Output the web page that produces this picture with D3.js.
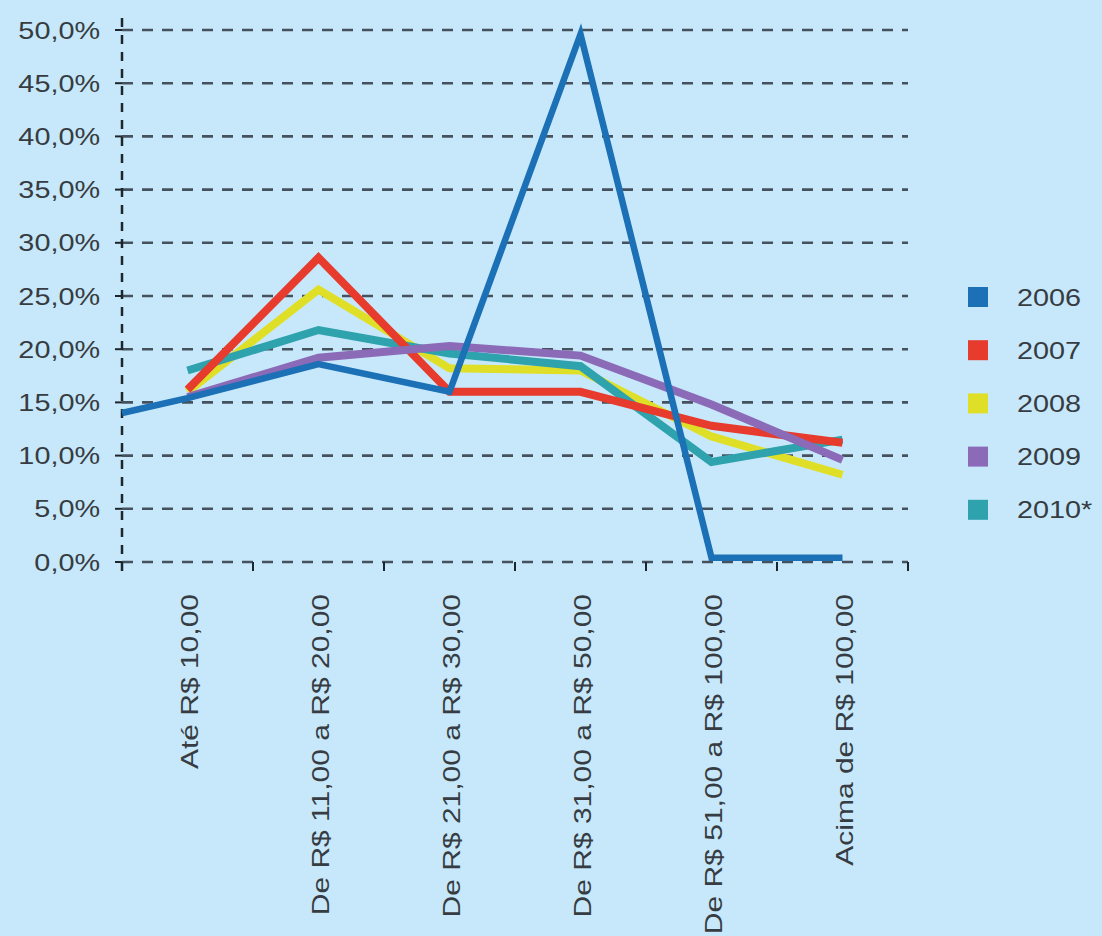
<!DOCTYPE html>
<html>
<head>
<meta charset="utf-8">
<script src="https://cdn.jsdelivr.net/npm/d3@7"></script>
<style>
  html, body { margin: 0; padding: 0; background: #c7e8fa; }
  svg { display: block; }
  text { font-family: "Liberation Sans", Arial, sans-serif; fill: #363c42; }
</style>
</head>
<body>
<script>
// categories on the x axis
var categories = [
	'Até R$ 10,00',
	'De R$ 11,00 a R$ 20,00',
	'De R$ 21,00 a R$ 30,00',
	'De R$ 31,00 a R$ 50,00',
	'De R$ 51,00 a R$ 100,00',
	'Acima de R$ 100,00'
];
var years = ['2006', '2007', '2008', '2009', '2010*'];

// values in %
var v2006 = [15.4, 18.6, 16.0, 49.6, 0.4, 0.4];
var start2006 = 14.0; // the 2006 line starts on the y axis
var v2007 = [16.2, 28.6, 16.0, 16.0, 12.8, 11.2];
var v2008 = [16.0, 25.6, 18.2, 18.0, 11.8, 8.2];
var v2009 = [15.5, 19.2, 20.3, 19.4, 14.8, 9.6];
var v2010 = [18.0, 21.8, 19.6, 18.4, 9.4, 11.5];

var yTicks = [0, 5, 10, 15, 20, 25, 30, 35, 40, 45, 50];
var colors = ['#1b70b6', '#e63b2d', '#e0df28', '#8b6ab8', '#2ea2ad'];

var width = 1102,
	height = 936,
	margin = { top: 30, left: 122, right: 194, bottom: 374 };

var svg = d3.select('body').append('svg')
	.attr('width', width)
	.attr('height', height);

var x = d3.scaleBand()
	.domain(categories)
	.range([margin.left, width - margin.right])
	.padding(0);
var y = d3.scaleLinear()
	.domain([0, 50])
	.range([height - margin.bottom, margin.top]);

var fmt = function(d) { return d3.format('.1f')(d).replace('.', ',') + '%'; };
var sx = 1.2; // the original font is wide, stretch along the baseline

// gridlines (the 0 line is the x axis)
svg.append('g').selectAll('line')
	.data(yTicks)
	.enter().append('line')
	.attr('x1', x.range()[0])
	.attr('x2', x.range()[1])
	.attr('y1', function(d) { return y(d); })
	.attr('y2', function(d) { return y(d); })
	.attr('stroke', '#45525d')
	.attr('stroke-width', 2.6)
	.attr('stroke-dasharray', '11,9');

// y axis: dashed line, small ticks, labels
svg.append('line')
	.attr('x1', x.range()[0]).attr('x2', x.range()[0])
	.attr('y1', y(50) - 12).attr('y2', y(0) + 10)
	.attr('stroke', '#1e262d')
	.attr('stroke-width', 2.5)
	.attr('stroke-dasharray', '9,8');

svg.append('g').selectAll('line')
	.data(yTicks)
	.enter().append('line')
	.attr('x1', x.range()[0] - 7).attr('x2', x.range()[0])
	.attr('y1', function(d) { return y(d); })
	.attr('y2', function(d) { return y(d); })
	.attr('stroke', '#1e262d')
	.attr('stroke-width', 2);

svg.append('g').selectAll('text')
	.data(yTicks)
	.enter().append('text')
	.attr('text-anchor', 'end')
	.attr('dy', '0.36em')
	.attr('font-size', 24)
	.attr('transform', function(d) { return 'translate(100,' + y(d) + ') scale(' + sx + ',1)'; })
	.text(fmt);

// x axis ticks at band edges
var edges = categories.map(function(c) { return x(c) + x.bandwidth(); });
svg.append('g').selectAll('line')
	.data(edges)
	.enter().append('line')
	.attr('x1', function(d) { return d; })
	.attr('x2', function(d) { return d; })
	.attr('y1', y(0))
	.attr('y2', y(0) + 9)
	.attr('stroke', '#1e262d')
	.attr('stroke-width', 2);

// category labels, rotated
svg.append('g').selectAll('text')
	.data(categories)
	.enter().append('text')
	.attr('text-anchor', 'end')
	.attr('dy', '0.36em')
	.attr('font-size', 24)
	.attr('transform', function(d) {
		return 'translate(' + (x(d) + x.bandwidth() / 2 + 2) + ',' + (y(0) + 32) + ') rotate(-90) scale(1.25,1)';
	})
	.text(function(d) { return d; });

// lines
var cx = function(i) { return x(categories[i]) + x.bandwidth() / 2; };
var line = d3.line()
	.x(function(d) { return d[0]; })
	.y(function(d) { return y(d[1]); });

var series = [v2006, v2007, v2008, v2009, v2010];
var pts = series.map(function(s) { return s.map(function(v, i) { return [cx(i), v]; }); });
pts[0].unshift([x.range()[0], start2006]);

// draw order: 2008, 2010, 2007, 2009, 2006 on top
[2, 4, 1, 3, 0].forEach(function(k) {
	svg.append('path')
		.attr('d', line(pts[k]))
		.attr('fill', 'none')
		.attr('stroke', colors[k])
		.attr('stroke-width', k === 0 ? 6.5 : 8)
		.attr('stroke-linejoin', 'miter');
});

// legend, rows line up with the gridlines
var legend = svg.append('g').selectAll('g')
	.data(years)
	.enter().append('g')
	.attr('transform', function(d, i) { return 'translate(968,' + (y(25 - 5 * i) + 1) + ')'; });

legend.append('rect')
	.attr('x', 0).attr('y', -10)
	.attr('width', 20).attr('height', 20)
	.attr('fill', function(d, i) { return colors[i]; });

legend.append('text')
	.attr('dy', '0.36em')
	.attr('font-size', 24)
	.attr('transform', 'translate(49,0) scale(' + sx + ',1)')
	.text(function(d) { return d; });
</script>
</body>
</html>
